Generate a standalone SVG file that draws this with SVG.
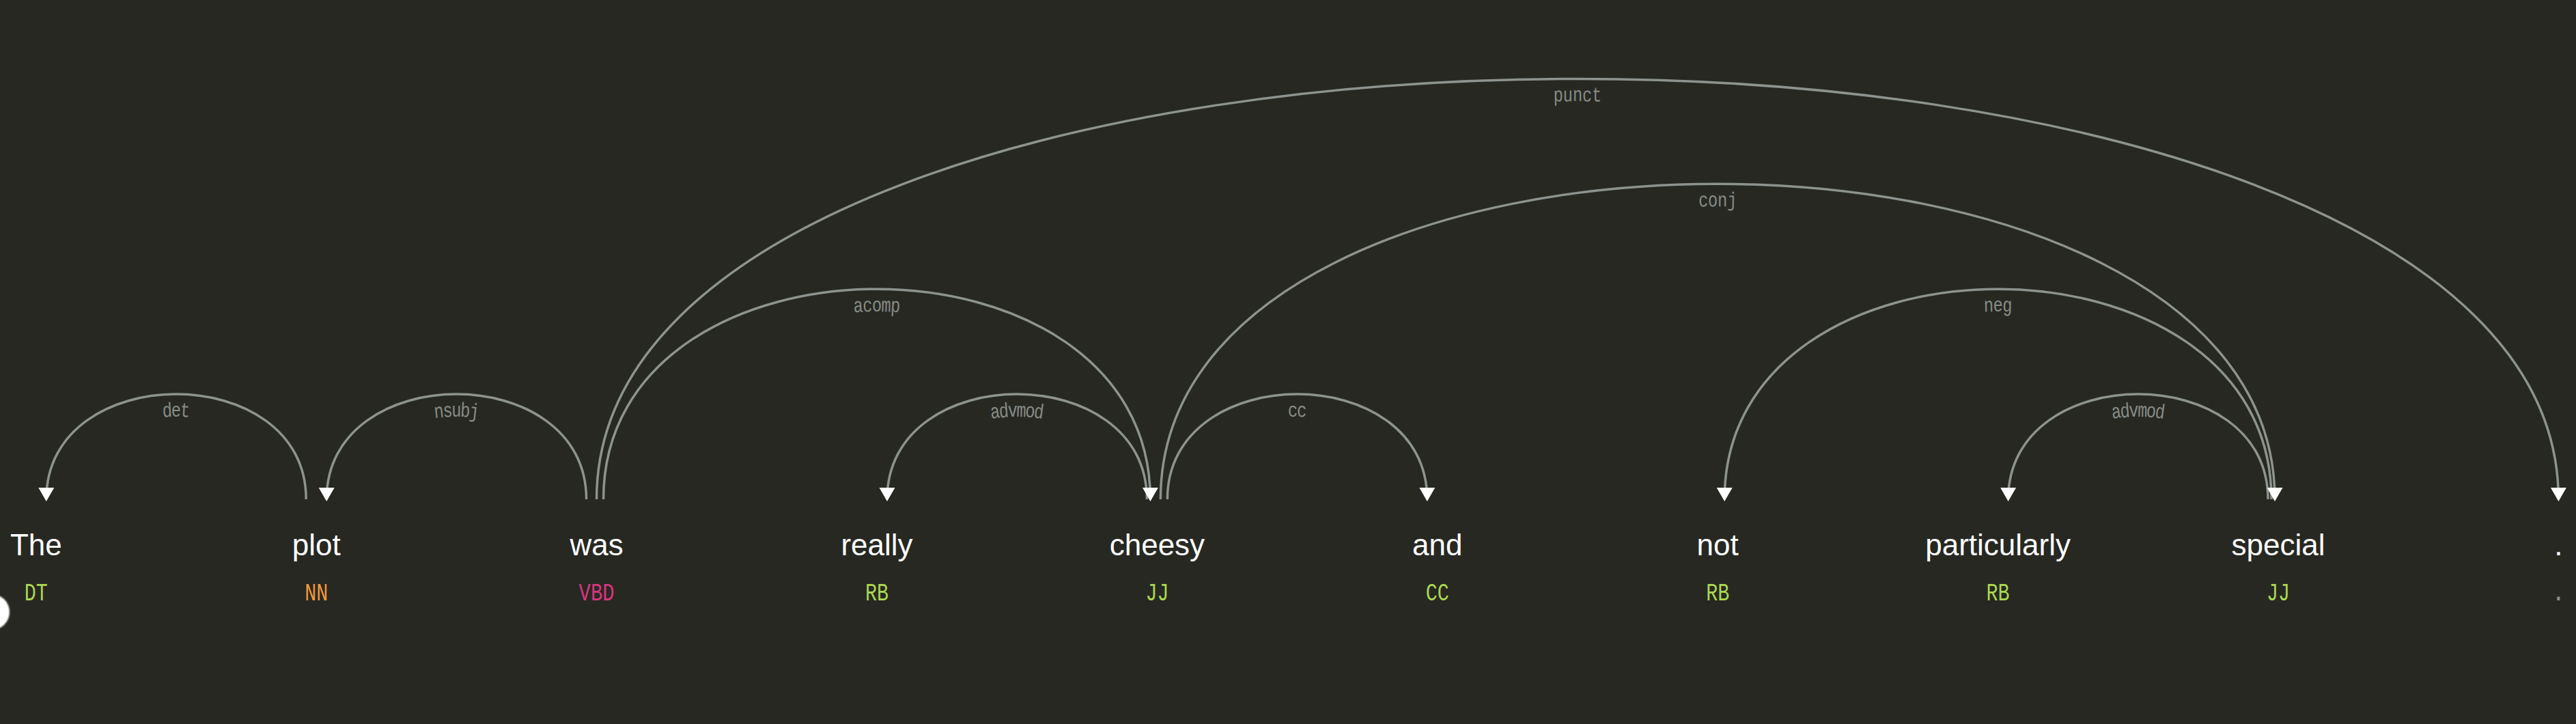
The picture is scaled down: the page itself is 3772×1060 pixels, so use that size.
<svg xmlns="http://www.w3.org/2000/svg" xmlns:xlink="http://www.w3.org/1999/xlink" width="3772" height="1060" viewBox="0 0 3772 1060">
  <defs>
    <style>
      .arc { fill: none; stroke: #8d938e; stroke-width: 3.5; }
      .head { fill: #ffffff; }
      .lbl { font-family: "Liberation Mono", "DejaVu Sans Mono", monospace; font-size: 30px; fill: #868b86; }
      .word { font-family: "Liberation Sans", Arial, sans-serif; font-size: 44px; fill: #ffffff; text-anchor: middle; }
      .tag { font-family: "Liberation Mono", "DejaVu Sans Mono", monospace; font-size: 36px; text-anchor: middle; }
      .g { fill: #abd851; }
      .o { fill: #f0993a; }
      .p { fill: #d9357e; }
      .gr { fill: #8a8a8a; }
    </style>
    <filter id="soft" x="-50%" y="-50%" width="200%" height="200%">
      <feGaussianBlur stdDeviation="1.2"/>
    </filter>
  </defs>
  <rect width="3772" height="1060" fill="#272822"/>

  <g id="connectors">
    <path id="arc1" class="arc" d="M67.8,731 C67.8,525.8 448.2,525.8 448.2,731"/>
    <path id="arc2" class="arc" d="M478.2,731 C478.2,525.8 858.6,525.8 858.6,731"/>
    <path id="arc3" class="arc" d="M883.6,731 C883.6,320.6 1684.4,320.6 1684.4,731"/>
    <path id="arc4" class="arc" d="M1299,731 C1299,525.8 1679.4,525.8 1679.4,731"/>
    <path id="arc5" class="arc" d="M1709.4,731 C1709.4,525.8 2089.8,525.8 2089.8,731"/>
    <path id="arc6" class="arc" d="M1699.4,731 C1699.4,115.4 3331,115.4 3331,731"/>
    <path id="arc7" class="arc" d="M2525.2,731 C2525.2,320.6 3326,320.6 3326,731"/>
    <path id="arc8" class="arc" d="M2940.6,731 C2940.6,525.8 3321,525.8 3321,731"/>
    <path id="arc9" class="arc" d="M873.6,731 C873.6,-89.8 3746.4,-89.8 3746.4,731"/>

    <text class="lbl" dy="33"><textPath xlink:href="#arc1" href="#arc1" startOffset="50%" text-anchor="middle" textLength="43" lengthAdjust="spacingAndGlyphs">det</textPath></text>
    <text class="lbl" dy="33"><textPath xlink:href="#arc2" href="#arc2" startOffset="50%" text-anchor="middle" textLength="71" lengthAdjust="spacingAndGlyphs">nsubj</textPath></text>
    <text class="lbl" dy="33"><textPath xlink:href="#arc3" href="#arc3" startOffset="50%" text-anchor="middle" textLength="71" lengthAdjust="spacingAndGlyphs">acomp</textPath></text>
    <text class="lbl" dy="33"><textPath xlink:href="#arc4" href="#arc4" startOffset="50%" text-anchor="middle" textLength="85" lengthAdjust="spacingAndGlyphs">advmod</textPath></text>
    <text class="lbl" dy="33"><textPath xlink:href="#arc5" href="#arc5" startOffset="50%" text-anchor="middle" textLength="29" lengthAdjust="spacingAndGlyphs">cc</textPath></text>
    <text class="lbl" dy="33"><textPath xlink:href="#arc6" href="#arc6" startOffset="50%" text-anchor="middle" textLength="57" lengthAdjust="spacingAndGlyphs">conj</textPath></text>
    <text class="lbl" dy="33"><textPath xlink:href="#arc7" href="#arc7" startOffset="50%" text-anchor="middle" textLength="43" lengthAdjust="spacingAndGlyphs">neg</textPath></text>
    <text class="lbl" dy="33"><textPath xlink:href="#arc8" href="#arc8" startOffset="50%" text-anchor="middle" textLength="85" lengthAdjust="spacingAndGlyphs">advmod</textPath></text>
    <text class="lbl" dy="33"><textPath xlink:href="#arc9" href="#arc9" startOffset="50%" text-anchor="middle" textLength="71" lengthAdjust="spacingAndGlyphs">punct</textPath></text>

    <path class="head" d="M67.8,734 L56.3,714 L79.3,714 Z"/>
    <path class="head" d="M478.2,734 L466.7,714 L489.7,714 Z"/>
    <path class="head" d="M1684.4,734 L1672.9,714 L1695.9,714 Z"/>
    <path class="head" d="M1299,734 L1287.5,714 L1310.5,714 Z"/>
    <path class="head" d="M2089.8,734 L2078.3,714 L2101.3,714 Z"/>
    <path class="head" d="M3331,734 L3319.5,714 L3342.5,714 Z"/>
    <path class="head" d="M2525.2,734 L2513.7,714 L2536.7,714 Z"/>
    <path class="head" d="M2940.6,734 L2929.1,714 L2952.1,714 Z"/>
    <path class="head" d="M3746.4,734 L3734.9,714 L3757.9,714 Z"/>
  </g>

  <g id="token-0"><text class="word" x="52.8" y="813">The</text><text class="tag g" x="52.8" y="879" textLength="34" lengthAdjust="spacingAndGlyphs">DT</text></g>
  <g id="token-1"><text class="word" x="463.2" y="813">plot</text><text class="tag o" x="463.2" y="879" textLength="34" lengthAdjust="spacingAndGlyphs">NN</text></g>
  <g id="token-2"><text class="word" x="873.6" y="813">was</text><text class="tag p" x="873.6" y="879" textLength="52" lengthAdjust="spacingAndGlyphs">VBD</text></g>
  <g id="token-3"><text class="word" x="1284" y="813">really</text><text class="tag g" x="1284" y="879" textLength="34" lengthAdjust="spacingAndGlyphs">RB</text></g>
  <g id="token-4"><text class="word" x="1694.4" y="813">cheesy</text><text class="tag g" x="1694.4" y="879" textLength="34" lengthAdjust="spacingAndGlyphs">JJ</text></g>
  <g id="token-5"><text class="word" x="2104.8" y="813">and</text><text class="tag g" x="2104.8" y="879" textLength="34" lengthAdjust="spacingAndGlyphs">CC</text></g>
  <g id="token-6"><text class="word" x="2515.2" y="813">not</text><text class="tag g" x="2515.2" y="879" textLength="34" lengthAdjust="spacingAndGlyphs">RB</text></g>
  <g id="token-7"><text class="word" x="2925.6" y="813">particularly</text><text class="tag g" x="2925.6" y="879" textLength="34" lengthAdjust="spacingAndGlyphs">RB</text></g>
  <g id="token-8"><text class="word" x="3336" y="813">special</text><text class="tag g" x="3336" y="879" textLength="34" lengthAdjust="spacingAndGlyphs">JJ</text></g>
  <g id="token-9"><text class="word" x="3746.4" y="813">.</text><text class="tag gr" x="3746.4" y="879">.</text></g>

  <circle id="cursor" cx="-12" cy="896" r="26" fill="#ffffff" filter="url(#soft)"/>
</svg>
